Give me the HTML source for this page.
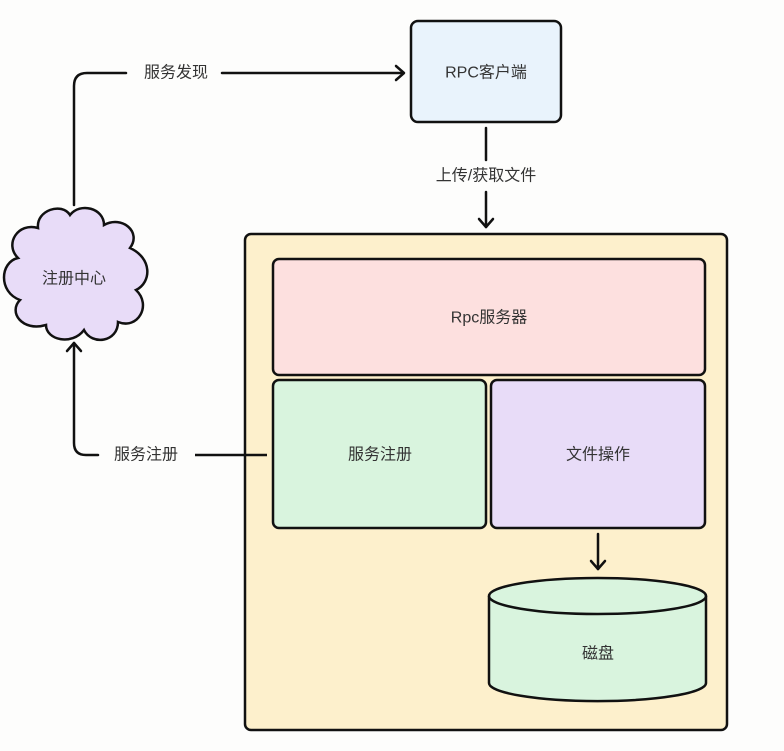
<!DOCTYPE html>
<html><head><meta charset="utf-8"><style>
body{margin:0;background:#fdfdfc;}
svg text{font-family:"Liberation Sans","Noto Sans CJK SC",sans-serif;font-size:16px;fill:#333;text-anchor:middle;dominant-baseline:central;}
</style></head><body>
<svg width="784" height="746" viewBox="0 0 784 746" xmlns="http://www.w3.org/2000/svg">
<g fill="none" stroke="#111" stroke-width="2.5" stroke-linecap="round" stroke-linejoin="round">
<path d="M74 205 V86 Q74 73 87 73 H126"/>
<path d="M222 73 H403"/><path d="M396 66 L404 73 L396 80"/>
<path d="M486 128 V160"/><path d="M486 192 V227"/><path d="M479 219 L486 227 L493 219"/>
<path d="M74 343 V443 Q74 455 86 455 H98"/><path d="M67 351 L74 343 L81 351"/>
</g>
<rect x="411" y="21" width="150" height="101" rx="7" fill="#e9f3fc" stroke="#111" stroke-width="2.5"/>
<text x="486" y="73">RPC客户端</text>
<path d="M38 228 C36 210 62 202 70 215 C80 202 104 208 104 225 C122 215 142 232 130 248 C152 258 152 282 136 290 C152 305 138 330 118 322 C118 342 92 346 84 330 C72 346 46 340 46 325 C22 332 8 312 20 300 C-2 292 0 262 18 258 C4 244 18 222 38 228 Z" fill="#e8dcf8" stroke="#111" stroke-width="2.5"/>
<text x="74" y="279">注册中心</text>
<text x="176" y="73">服务发现</text>
<text x="486" y="176">上传/获取文件</text>
<text x="146" y="455">服务注册</text>
<rect x="245" y="234" width="482" height="496" rx="6" fill="#fdf0cc" stroke="#111" stroke-width="2.5"/>
<path d="M195 455 H267" stroke="#111" stroke-width="2.5"/>
<rect x="273" y="259" width="432" height="116" rx="6" fill="#fde0df" stroke="#111" stroke-width="2.5"/>
<text x="489" y="318">Rpc服务器</text>
<rect x="273" y="380" width="213" height="148" rx="6" fill="#d9f4de" stroke="#111" stroke-width="2.5"/>
<text x="380" y="455">服务注册</text>
<rect x="491" y="380" width="214" height="148" rx="6" fill="#e8dcf8" stroke="#111" stroke-width="2.5"/>
<text x="598" y="455">文件操作</text>
<g fill="none" stroke="#111" stroke-width="2.5" stroke-linecap="round" stroke-linejoin="round">
<path d="M598 534 V569"/><path d="M591 561 L598 569 L605 561"/>
</g>
<path d="M489 596 V683 A108 18 0 0 0 706 683 V596" fill="#d9f4de" stroke="#111" stroke-width="2.5"/>
<ellipse cx="597.5" cy="596" rx="108.5" ry="18" fill="#d9f4de" stroke="#111" stroke-width="2.5"/>
<text x="598" y="654">磁盘</text>
</svg>
</body></html>
